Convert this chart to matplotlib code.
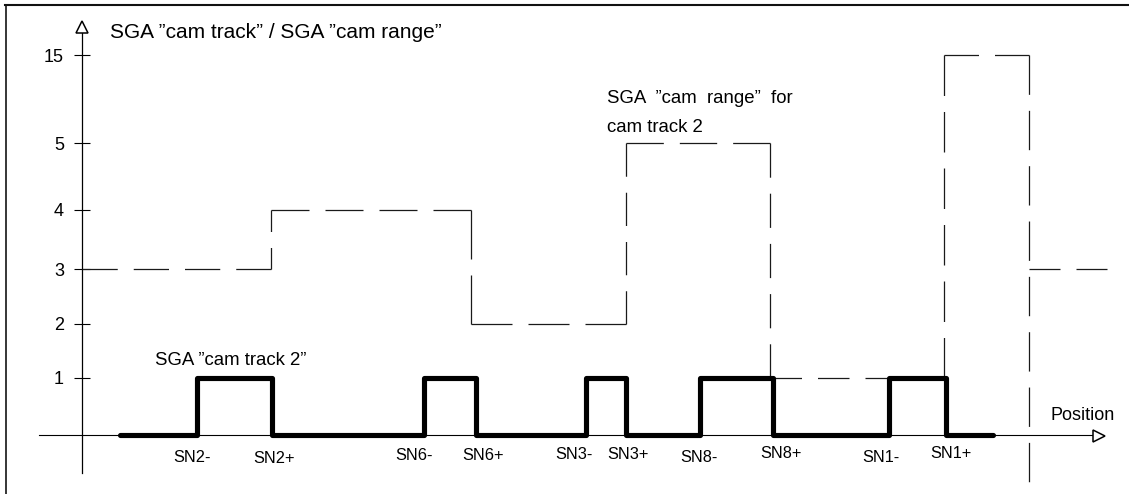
import numpy as np
import matplotlib
matplotlib.use("Agg")
import matplotlib.pyplot as plt
from matplotlib.lines import Line2D

# ---------------- data ----------------
# switching points of SGA "cam track 2" (position units, y axis at 0)
sn_labels = ["SN2-", "SN2+", "SN6-", "SN6+", "SN3-", "SN3+", "SN8-", "SN8+", "SN1-", "SN1+"]
sn_positions = [115, 189.5, 342, 394, 504, 544, 618, 691, 807, 863.5]
track_start = 38
track_end = 911
track_high = 1
track_low = 0

# SGA "cam range" steps
range_edges = [0, 189, 389, 544, 688, 862, 947, 1025]
range_values = [3, 4, 2, 5, 1, 15, 3]
range_drop_bottom = -0.82   # dashed vertical continues below the position axis

# non-uniform value axis
y_levels = [0, 1, 2, 3, 4, 5, 15]
y_level_pos = [0, 57, 111, 166, 225, 292, 380]
y_ticks = [1, 2, 3, 4, 5, 15]
y_tick_labels = ["1", "2", "3", "4", "5", "15"]

title_text = "SGA \u201dcam track\u201d / SGA \u201dcam range\u201d"
track_text = "SGA \u201dcam track 2\u201d"
range_text_1 = "SGA  \u201dcam  range\u201d  for"
range_text_2 = "cam track 2"
x_axis_text = "Position"

# ---------------- layout ----------------
W, H, DPI = 1129, 494, 100
plt.rcParams["font.family"] = ["Liberation Sans", "DejaVu Sans"]
plt.rcParams["lines.scale_dashes"] = False


def fp(x, y):
    """pixel -> figure fraction"""
    return x / W, 1 - y / H


# extend the mapping linearly beyond the ends
s_lo = (y_level_pos[1] - y_level_pos[0]) / (y_levels[1] - y_levels[0])
s_hi = (y_level_pos[-1] - y_level_pos[-2]) / (y_levels[-1] - y_levels[-2])
L_ext = np.array([y_levels[0] - 50] + y_levels + [y_levels[-1] + 50], float)
P_ext = np.array([y_level_pos[0] - 50 * s_lo] + y_level_pos + [y_level_pos[-1] + 50 * s_hi], float)


def fwd(v):
    return np.interp(v, L_ext, P_ext)


def inv(p):
    return np.interp(p, P_ext, L_ext)


fig = plt.figure(figsize=(W / DPI, H / DPI), dpi=DPI)
ax = fig.add_axes([0, 0, 1, 1])
ax.set_facecolor("none")
ax.set_yscale("function", functions=(fwd, inv))
x0_px, y0_px = 82, 435
ax.set_xlim(-x0_px, W - x0_px)
ax.set_ylim(inv(y0_px - H), inv(y0_px))

# axes spines as coordinate axes
for s in ("top", "right"):
    ax.spines[s].set_visible(False)
ax.spines["left"].set_position(("data", 0))
ax.spines["bottom"].set_position(("data", 0))
ax.spines["left"].set_bounds(inv(y0_px - 473), inv(y0_px - 33))
ax.spines["bottom"].set_bounds(39 - x0_px, 1092 - x0_px)
ax.spines["left"].set_linewidth(0.9)
ax.spines["bottom"].set_linewidth(0.8)
ax.set_xticks([])
ax.set_yticks(y_ticks)
ax.set_yticklabels(y_tick_labels)
ax.yaxis.set_minor_locator(matplotlib.ticker.NullLocator())
ax.tick_params(axis="y", direction="inout", length=11, width=0.8, pad=7.5,
               labelsize=13, colors="black")

# cam track 2 (thick step line)
tx, ty = [track_start], [track_low]
for i in range(0, len(sn_positions), 2):
    a, b = sn_positions[i], sn_positions[i + 1]
    tx += [a, a, b, b]
    ty += [track_low, track_high, track_high, track_low]
tx.append(track_end)
ty.append(track_low)
ax.plot(tx, ty, color="black", lw=3.7, solid_capstyle="round",
        solid_joinstyle="round", zorder=4, clip_on=False)

# cam range (dashed step line, each straight piece starts and ends with a dash)
segments = []
for i, v in enumerate(range_values):
    segments.append(((range_edges[i], v), (range_edges[i + 1], v)))
    if i + 1 < len(range_values) - 1:
        segments.append(((range_edges[i + 1], v), (range_edges[i + 1], range_values[i + 1])))
# last drop: one dashed vertical running down below the position axis
segments.append(((range_edges[-2], range_values[-2]), (range_edges[-2], range_drop_bottom)))


def draw_dashed(p0, p1, dash_px=37.0, gap_px=16.0):
    d0 = ax.transData.transform(p0)
    d1 = ax.transData.transform(p1)
    length = float(np.hypot(*(d1 - d0)))
    n = max(2, int(round((length + gap_px) / (dash_px + gap_px))))
    d = (length - (n - 1) * gap_px) / n
    k = 72.0 / DPI
    ax.plot([p0[0], p1[0]], [p0[1], p1[1]], color="#1a1a1a", lw=0.9,
            linestyle=(0, (d * k, gap_px * k)), solid_capstyle="butt",
            dash_capstyle="butt", zorder=3, clip_on=False)


for p0, p1 in segments:
    draw_dashed(p0, p1)

# arrow heads of the axes
ax.plot(*fp(82, 27.5), marker="^", ms=8.3, mfc="white", mec="black", mew=1.1,
        transform=fig.transFigure, clip_on=False, zorder=5)
ax.plot(*fp(1098.5, 435.5), marker=">", ms=8.8, mfc="white", mec="black", mew=1.1,
        transform=fig.transFigure, clip_on=False, zorder=5)

# switching point labels
sn_label_dx = [-5, 2.5, -10, 7, -12, 2, -1, 8, -8, 5.5]
sn_label_base = [461.5, 463, 459.5, 459.5, 459, 459, 461.5, 458, 461.5, 458]
for lab, xp, dx, yb in zip(sn_labels, sn_positions, sn_label_dx, sn_label_base):
    fig.text(*fp(xp + x0_px + dx, yb), lab, ha="center", va="baseline", fontsize=11.8)

# texts
fig.text(*fp(110, 38), title_text, ha="left", va="baseline", fontsize=15)
fig.text(*fp(155, 365), track_text, ha="left", va="baseline", fontsize=13.4)
fig.text(*fp(606.5, 103.3), range_text_1, ha="left", va="baseline", fontsize=13.4)
fig.text(*fp(606.5, 131.7), range_text_2, ha="left", va="baseline", fontsize=13.4)
fig.text(*fp(1050.7, 420), x_axis_text, ha="left", va="baseline", fontsize=13)

# frame (left and top border)
fig.add_artist(Line2D([5.5 / W, 5.5 / W], [1 - 5 / H, 0], transform=fig.transFigure,
                      color="black", lw=1.1))
fig.add_artist(Line2D([5 / W, 1], [1 - 5 / H, 1 - 5 / H], transform=fig.transFigure,
                      color="#111111", lw=1.5))

fig.savefig("out.png", dpi=DPI)
